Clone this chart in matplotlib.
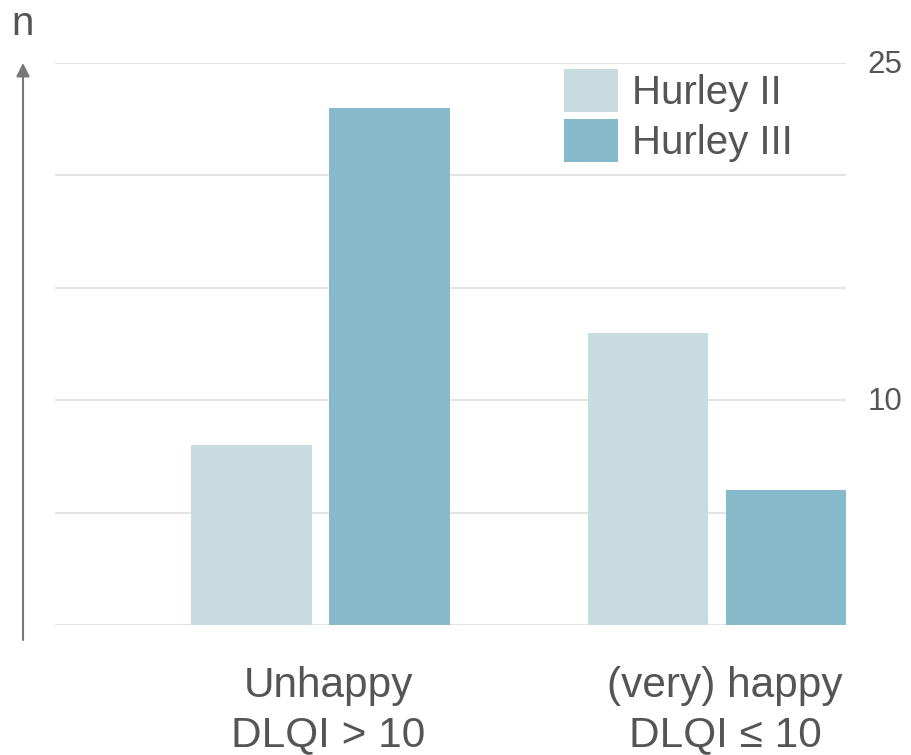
import matplotlib
matplotlib.use("Agg")
import matplotlib.pyplot as plt
import numpy as np
from matplotlib.patches import Patch
from matplotlib.transforms import blended_transform_factory

plt.rcParams['font.family'] = ['Liberation Sans', 'DejaVu Sans']

# Data
groups = ["Unhappy", "(very) happy"]
group_sub = ["DLQI > 10", "DLQI \u2264 10"]
series_names = ["Hurley II", "Hurley III"]
hurley_ii = [8, 13]
hurley_iii = [23, 6]
grid_ticks = [0, 5, 10, 15, 20, 25]
labelled_ticks = [10, 25]

colors = ["#c8dce0", "#86b9ca"]
text_color = "#555555"

W, H, DPI = 912, 755, 100
fig = plt.figure(figsize=(W / DPI, H / DPI), dpi=DPI)

# axes frame in pixels: x 55..846, y 625 (0) .. 63 (25)
left, right, bottom_px, top_px = 55, 846, 625, 63
ax = fig.add_axes([left / W, (H - bottom_px) / H, (right - left) / W, (bottom_px - top_px) / H])

x = np.arange(len(groups))
width = 0.305
offset = 0.174
ax.bar(x - offset, hurley_ii, width, color=colors[0], zorder=2, linewidth=0)
ax.bar(x + offset, hurley_iii, width, color=colors[1], zorder=2, linewidth=0)

ax.set_xlim(-0.6696, 1.3253)
ax.set_ylim(0, 25)
ax.set_yticks(grid_ticks)
ax.yaxis.grid(True, color="#e4e4e4", linewidth=1.5, zorder=0)
ax.set_axisbelow(True)
ax.tick_params(left=False, bottom=False, labelleft=False, labelbottom=False)
for s in ax.spines.values():
    s.set_visible(False)

# right-hand value labels
tr = blended_transform_factory(ax.transAxes, ax.transData)
for v in labelled_ticks:
    ax.text((902 - left) / (right - left), v - 0.1, str(v), transform=tr,
            ha="right", va="center", fontsize=22.5, color=text_color)

# category labels, two lines each
trx = blended_transform_factory(ax.transData, fig.transFigure)
for i, (g, s) in enumerate(zip(groups, group_sub)):
    ax.text(i + 0.02, (H - 697) / H, g, transform=trx, ha="center", va="baseline",
            fontsize=30.5, color=text_color)
    ax.text(i + 0.02, (H - 746) / H, s, transform=trx, ha="center", va="baseline",
            fontsize=30.5, color=text_color)

# vertical arrow axis with "n"
fig.patches.append(matplotlib.patches.FancyArrowPatch(
    posA=(23 / W, (H - 640) / H), posB=(23 / W, (H - 63) / H),
    transform=fig.transFigure, arrowstyle='-|>', mutation_scale=20,
    color="#777777", linewidth=1.5, shrinkA=0, shrinkB=0))
fig.text(23 / W, (H - 35) / H, "n", ha="center", va="baseline", fontsize=29, color=text_color)

# legend
handles = [Patch(facecolor=c, edgecolor="none") for c in colors]
fs = 29
fpx = fs * DPI / 72
leg = fig.legend(handles, series_names, loc="upper left",
                 bbox_to_anchor=(564 / W, (H - 69) / H), bbox_transform=fig.transFigure,
                 frameon=False, fontsize=fs, borderpad=0, borderaxespad=0,
                 handlelength=54 / fpx, handleheight=51 / fpx,
                 handletextpad=0.35, labelspacing=7 / fpx)
for t in leg.get_texts():
    t.set_color(text_color)

fig.savefig("out.png", dpi=DPI, facecolor="white")
